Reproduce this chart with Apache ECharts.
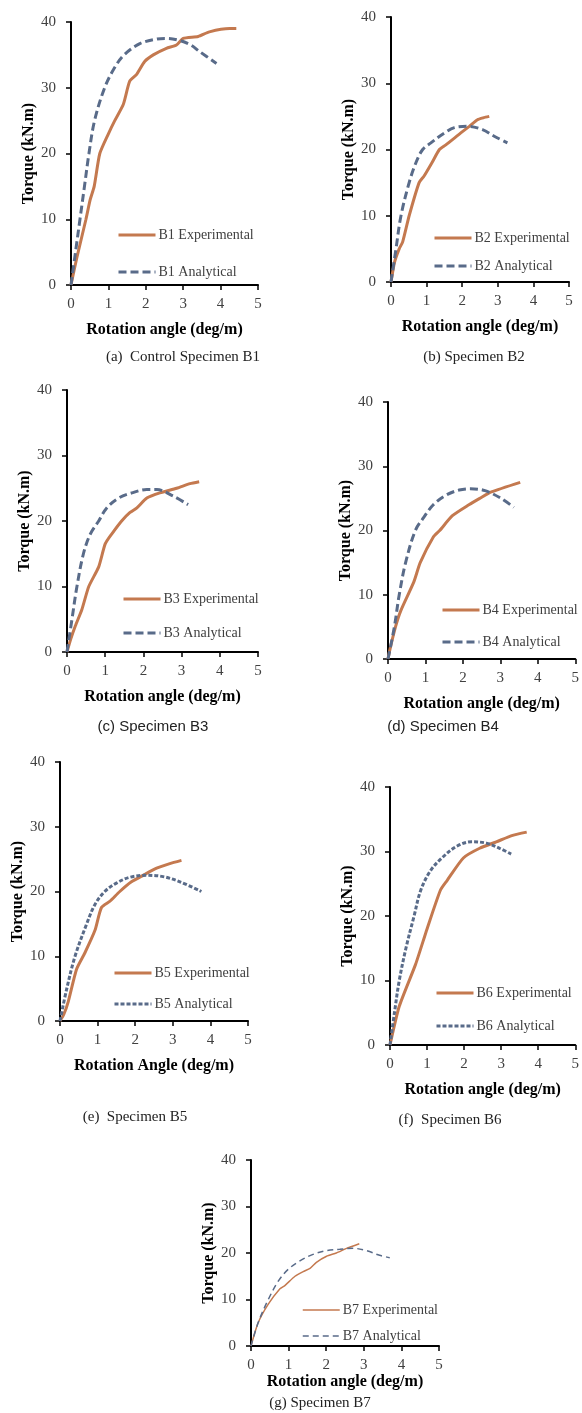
<!DOCTYPE html>
<html>
<head>
<meta charset="utf-8">
<script src="https://cdn.jsdelivr.net/npm/echarts@6/dist/echarts.min.js"></script>
<style>
  html, body { margin: 0; padding: 0; background: #fff; }
  #main { width: 582px; height: 1413px; }
</style>
</head>
<body>
<div id="main"></div>
<script>
// axis ranges / ticks
const xTicks = [0, 1, 2, 3, 4, 5];
const yTicks = [0, 10, 20, 30, 40];

// [rotation angle (deg/m), torque (kN.m)]
const b1Exp = [[0,0],[0.15,4],[0.4,10],[0.51,12.9],[0.62,15],[0.77,20],[1.0,23],[1.17,25],[1.4,27.5],[1.57,31],[1.75,32],[1.97,34],[2.2,35],[2.55,36],[2.82,36.5],[3.0,37.5],[3.4,37.8],[3.7,38.5],[4.24,39],[4.42,39]];
const b1Ana = [[0,0],[0.12,5],[0.24,10],[0.36,15],[0.48,20],[0.63,25],[0.9,30],[1.16,33],[1.42,35],[1.84,36.7],[2.29,37.4],[2.55,37.5],[2.9,37.2],[3.2,36.5],[3.44,35.5],[3.89,33.7]];
const b2Exp = [[0,0],[0.1,3],[0.23,5],[0.33,6.1],[0.51,10],[0.79,15],[0.93,16],[1.15,18],[1.36,20],[1.54,20.7],[1.96,22.5],[2.2,23.5],[2.43,24.5],[2.6,24.8],[2.76,25]];
const b2Ana = [[0,0],[0.14,5],[0.28,10],[0.51,15],[0.7,18],[0.89,20],[1.12,21],[1.5,22.5],[1.78,23.3],[2.15,23.5],[2.57,23],[2.9,22],[3.27,21]];
const b3Exp = [[0,0],[0.1,2],[0.22,4],[0.39,6.5],[0.57,10],[0.83,13],[1.0,16.5],[1.17,18],[1.43,20],[1.65,21.3],[1.83,22],[2.09,23.5],[2.43,24.3],[2.87,25],[3.22,25.7],[3.46,26]];
const b3Ana = [[0,0],[0.13,5],[0.26,10],[0.43,15],[0.61,18],[0.83,20],[1.04,22],[1.35,23.5],[1.7,24.3],[2.09,24.8],[2.35,24.8],[2.78,23.8],[3.17,22.5]];
const b4Exp = [[0,0],[0.04,1.2],[0.2,5],[0.34,7.5],[0.69,12],[0.86,15],[1.21,19],[1.38,20],[1.72,22.3],[2.16,24],[2.45,25],[2.76,26],[3.53,27.5]];
const b4Ana = [[0,0],[0.17,5],[0.3,10],[0.47,15],[0.73,20],[0.95,22],[1.21,24],[1.55,25.5],[1.9,26.3],[2.2,26.5],[2.59,26.2],[3.02,25],[3.36,23.6]];
const b5Exp = [[0,0],[0.1,1],[0.22,3],[0.44,8],[0.66,10.5],[0.93,14],[1.1,17.5],[1.33,18.5],[1.59,20],[1.9,21.5],[2.21,22.5],[2.57,23.6],[2.92,24.3],[3.23,24.8]];
const b5Ana = [[0,0],[0.18,5],[0.4,10],[0.71,15],[0.93,18],[1.19,20],[1.5,21.3],[1.86,22.2],[2.3,22.5],[2.74,22.3],[3.19,21.5],[3.76,20]];
const b6Exp = [[0,0],[0.25,6],[0.69,12.5],[1.0,18],[1.36,24],[1.54,25.5],[1.98,29],[2.42,30.5],[2.87,31.5],[3.31,32.5],[3.69,33]];
const b6Ana = [[0,0],[0.12,5],[0.25,10],[0.43,15],[0.65,20],[0.83,24],[1.09,27],[1.4,29],[1.8,30.8],[2.2,31.5],[2.6,31.3],[2.96,30.5],[3.27,29.6]];
const b7Exp = [[0,0],[0.19,5],[0.46,9],[0.77,12.3],[0.9,13],[1.17,15],[1.39,16],[1.57,16.7],[1.74,18],[2.01,19.3],[2.27,20],[2.54,21],[2.88,22]];
const b7Ana = [[0,0],[0.19,5],[0.46,10],[0.73,14],[0.99,16.5],[1.3,18.3],[1.65,19.7],[2.01,20.5],[2.36,20.8],[2.72,21],[3.07,20.5],[3.42,19.5],[3.69,19]];

const ORANGE = '#c4794f';
const BLUE = '#596b89';
const SERIF = 'Liberation Serif, Times New Roman, serif';
const SANS = 'Liberation Sans, Arial, sans-serif';

// layout of the seven panels
const panels = [
  { id: 'B1', exp: b1Exp, ana: b1Ana, grid: [71, 22, 187, 263], legend: [117, 228], gap: 23, xName: 'Rotation angle (deg/m)',
    cap: '(a)  Control Specimen B1', capPos: [183, 357], capFont: SERIF, dash: [8, 4], w: 3 },
  { id: 'B2', exp: b2Exp, ana: b2Ana, grid: [391, 17, 178, 265], legend: [433, 231], gap: 14, xName: 'Rotation angle (deg/m)',
    cap: '(b) Specimen B2', capPos: [474, 357], capFont: SERIF, dash: [8, 4], w: 3 },
  { id: 'B3', exp: b3Exp, ana: b3Ana, grid: [67, 390, 191, 262], legend: [122, 592], gap: 20, xName: 'Rotation angle (deg/m)',
    cap: '(c) Specimen B3', capPos: [153, 727], capFont: SANS, dash: [8, 4], w: 3 },
  { id: 'B4', exp: b4Exp, ana: b4Ana, grid: [388, 402, 193, 257], legend: [441, 603], gap: 18, xName: 'Rotation angle (deg/m)',
    cap: '(d) Specimen B4', capPos: [443, 727], capFont: SANS, dash: [8, 4], w: 3 },
  { id: 'B5', exp: b5Exp, ana: b5Ana, grid: [60, 762, 188, 259], legend: [113, 966], gap: 17, xName: 'Rotation Angle (deg/m)',
    cap: '(e)  Specimen B5', capPos: [135, 1117], capFont: SERIF, dash: [4, 2], w: 3 },
  { id: 'B6', exp: b6Exp, ana: b6Ana, grid: [390, 787, 188, 258], legend: [435, 986], gap: 19, xName: 'Rotation angle (deg/m)',
    cap: '(f)  Specimen B6', capPos: [450, 1120], capFont: SERIF, dash: [4, 2], w: 3 },
  { id: 'B7', exp: b7Exp, ana: b7Ana, grid: [251, 1160, 188, 186], legend: [302, 1303], gap: 12, xName: 'Rotation angle (deg/m)',
    cap: '(g) Specimen B7', capPos: [320, 1403], capFont: SERIF, dash: [6, 4], w: 1.5, xNameGap: 26 }
];

const chart = echarts.init(document.getElementById('main'));

const option = {
  animation: false,
  grid: [], xAxis: [], yAxis: [], series: [], legend: [], graphic: []
};

panels.forEach((p, i) => {
  option.grid.push({ left: p.grid[0], top: p.grid[1], width: p.grid[2], height: p.grid[3] });
  option.xAxis.push({
    type: 'value', gridIndex: i, min: xTicks[0], max: xTicks[xTicks.length - 1], interval: 1,
    name: p.xName, nameLocation: 'middle', nameGap: p.xNameGap || 37,
    nameTextStyle: { fontFamily: SERIF, fontWeight: 'bold', fontSize: 16, color: '#000' },
    axisLine: { lineStyle: { color: '#000', width: 2 } },
    axisTick: { show: true, length: 5, lineStyle: { color: '#000', width: 1.5 } },
    axisLabel: { fontFamily: SERIF, fontSize: 15, color: '#404040', margin: 12 },
    splitLine: { show: false }
  });
  option.yAxis.push({
    type: 'value', gridIndex: i, min: yTicks[0], max: yTicks[yTicks.length - 1], interval: 10,
    name: 'Torque (kN.m)', nameLocation: 'middle', nameGap: 33, nameRotate: 90,
    nameTextStyle: { fontFamily: SERIF, fontWeight: 'bold', fontSize: 16, color: '#000' },
    axisLine: { show: true, lineStyle: { color: '#000', width: 2 } },
    axisTick: { show: true, length: 5, lineStyle: { color: '#000', width: 1.5 } },
    axisLabel: { fontFamily: SERIF, fontSize: 15, color: '#404040', margin: 15 },
    splitLine: { show: false }
  });
  option.series.push({
    name: p.id + ' Experimental', type: 'line', xAxisIndex: i, yAxisIndex: i,
    data: p.exp, showSymbol: false, symbol: 'none', smooth: 0.2,
    lineStyle: { color: ORANGE, width: p.w }, itemStyle: { color: ORANGE }
  });
  option.series.push({
    name: p.id + ' Analytical', type: 'line', xAxisIndex: i, yAxisIndex: i,
    data: p.ana, showSymbol: false, symbol: 'none', smooth: 0.35,
    lineStyle: { color: BLUE, width: p.w, type: p.dash }, itemStyle: { color: BLUE }
  });
  option.legend.push({
    left: p.legend[0], top: p.legend[1], orient: 'vertical', padding: 0,
    itemWidth: 37, itemHeight: 14, itemGap: p.gap,
    itemStyle: { opacity: 0 },
    lineStyle: { width: p.w },
    data: [p.id + ' Experimental', p.id + ' Analytical'],
    textStyle: { fontFamily: SERIF, fontSize: 14, color: '#404040', padding: [0, 0, 0, -2] },
    selectedMode: false
  });
  option.graphic.push({
    type: 'text', x: p.capPos[0], y: p.capPos[1],
    style: { text: p.cap, font: '15px ' + p.capFont, fill: '#222', textAlign: 'center', textVerticalAlign: 'middle' }
  });
});

chart.setOption(option);
</script>
</body>
</html>
